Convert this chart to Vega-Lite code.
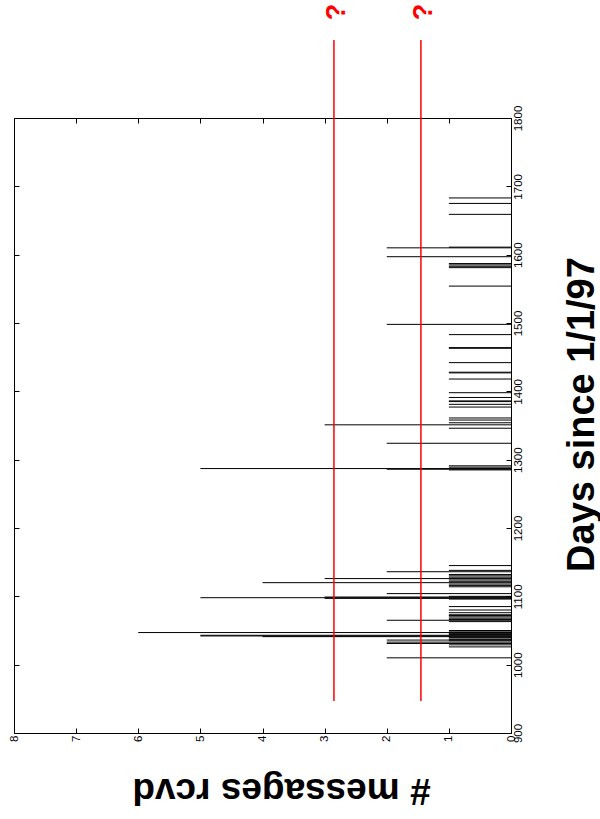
{
  "$schema": "https://vega.github.io/schema/vega-lite/v6.json",
  "width": 497,
  "height": 615,
  "autosize": "none",
  "padding": {"left": 14, "top": 118, "right": 89, "bottom": 86},
  "background": "white",
  "config": {
    "view": {"stroke": "black", "strokeWidth": 1},
    "axis": {
      "domain": false,
      "grid": false,
      "tickColor": "black",
      "tickSize": -5,
      "tickWidth": 1,
      "labelFont": "Liberation Sans",
      "labelFontSize": 11,
      "labelColor": "black",
      "titleColor": "black",
      "titleFont": "Liberation Sans",
      "titleFontWeight": "bold"
    }
  },
  "datasets": {
    "msgs": [
      {"day": 1010, "n": 2}, {"day": 1026, "n": 1}, {"day": 1029, "n": 1}, {"day": 1031, "n": 2},
      {"day": 1033, "n": 2}, {"day": 1035, "n": 1}, {"day": 1036, "n": 2}, {"day": 1037, "n": 1},
      {"day": 1039, "n": 1}, {"day": 1040, "n": 1}, {"day": 1041, "n": 4}, {"day": 1042, "n": 5},
      {"day": 1043, "n": 5}, {"day": 1044, "n": 1}, {"day": 1045, "n": 1}, {"day": 1046, "n": 1},
      {"day": 1047, "n": 6}, {"day": 1048, "n": 1}, {"day": 1050, "n": 1}, {"day": 1063, "n": 1},
      {"day": 1065, "n": 2}, {"day": 1066, "n": 1}, {"day": 1068, "n": 1}, {"day": 1070, "n": 1},
      {"day": 1072, "n": 1}, {"day": 1073, "n": 1}, {"day": 1076, "n": 1}, {"day": 1080, "n": 1},
      {"day": 1085, "n": 1}, {"day": 1096, "n": 1}, {"day": 1097, "n": 3}, {"day": 1098, "n": 5},
      {"day": 1099, "n": 3}, {"day": 1100, "n": 1}, {"day": 1104, "n": 2}, {"day": 1114, "n": 1},
      {"day": 1116, "n": 1}, {"day": 1118, "n": 1}, {"day": 1120, "n": 4}, {"day": 1122, "n": 1},
      {"day": 1124, "n": 1}, {"day": 1126, "n": 3}, {"day": 1128, "n": 1}, {"day": 1130, "n": 1},
      {"day": 1132, "n": 1}, {"day": 1136, "n": 2}, {"day": 1138, "n": 1}, {"day": 1145, "n": 1},
      {"day": 1285, "n": 1}, {"day": 1286, "n": 2}, {"day": 1287, "n": 5}, {"day": 1289, "n": 1},
      {"day": 1291, "n": 1}, {"day": 1324, "n": 2}, {"day": 1346, "n": 1}, {"day": 1351, "n": 3},
      {"day": 1354, "n": 1}, {"day": 1358, "n": 1}, {"day": 1361, "n": 1}, {"day": 1377, "n": 1},
      {"day": 1381, "n": 1}, {"day": 1385, "n": 1}, {"day": 1386, "n": 1}, {"day": 1391, "n": 1},
      {"day": 1398, "n": 1}, {"day": 1418, "n": 1}, {"day": 1427, "n": 1}, {"day": 1428, "n": 1},
      {"day": 1442, "n": 1}, {"day": 1463, "n": 1}, {"day": 1464, "n": 1}, {"day": 1483, "n": 1},
      {"day": 1498, "n": 2}, {"day": 1554, "n": 1}, {"day": 1581, "n": 1}, {"day": 1583, "n": 1},
      {"day": 1585, "n": 1}, {"day": 1587, "n": 1}, {"day": 1597, "n": 2}, {"day": 1610, "n": 2},
      {"day": 1611, "n": 1}, {"day": 1659, "n": 1}, {"day": 1675, "n": 1}, {"day": 1683, "n": 1}
    ],
    "guesses": [
      {"level": 2.85, "start": 947, "end": 1914, "mark_y": 1955, "label": "?"},
      {"level": 1.45, "start": 947, "end": 1914, "mark_y": 1955, "label": "?"}
    ]
  },
  "resolve": {"axis": {"x": "independent", "y": "independent"}},
  "layer": [
    {
      "data": {"name": "msgs"},
      "mark": {"type": "rule", "color": "black", "strokeWidth": 1},
      "encoding": {
        "x": {
          "field": "n", "type": "quantitative",
          "scale": {"domain": [0, 8], "reverse": true, "nice": false, "zero": false},
          "axis": {
            "orient": "bottom", "values": [0, 1, 2, 3, 4, 5, 6, 7, 8], "format": "d",
            "labelAngle": -90, "labelAlign": "right", "labelBaseline": "middle",
            "labelPadding": 7, "labelFontSize": 11.5, "labelFont": "Liberation Sans",
            "title": "# messages rcvd", "titleAngle": 180, "titleFontSize": 37,
            "titleAlign": "center", "titleBaseline": "alphabetic",
            "titleX": 267, "titleY": 45
          }
        },
        "x2": {"datum": 0},
        "y": {
          "field": "day", "type": "quantitative",
          "scale": {"domain": [900, 1800], "nice": false, "zero": false},
          "axis": {
            "orient": "right", "values": [900, 1000, 1100, 1200, 1300, 1400, 1500, 1600, 1700, 1800], "format": "d",
            "labelAngle": -90, "labelAlign": "center", "labelBaseline": "top",
            "labelPadding": 6, "labelFontSize": 11.5, "labelFont": "Liberation Sans",
            "title": "Days since 1/1/97", "titleAngle": -90, "titleFontSize": 38,
            "titleAlign": "center", "titleBaseline": "alphabetic",
            "titleX": 82, "titleY": 296
          }
        }
      }
    },
    {
      "data": {"name": "msgs"},
      "mark": {"type": "rule", "opacity": 0},
      "encoding": {
        "x": {
          "field": "n", "type": "quantitative",
          "scale": {"domain": [0, 8], "reverse": true, "nice": false, "zero": false},
          "axis": {"orient": "top", "values": [0, 1, 2, 3, 4, 5, 6, 7, 8], "labels": false, "title": null}
        },
        "y": {
          "field": "day", "type": "quantitative",
          "scale": {"domain": [900, 1800], "nice": false, "zero": false},
          "axis": {"orient": "left", "values": [900, 1000, 1100, 1200, 1300, 1400, 1500, 1600, 1700, 1800], "labels": false, "title": null}
        }
      }
    },
    {
      "data": {"name": "guesses"},
      "mark": {"type": "rule", "color": "#ff0000", "strokeWidth": 1.5},
      "encoding": {
        "x": {"field": "level", "type": "quantitative", "scale": {"domain": [0, 8], "reverse": true, "nice": false, "zero": false}, "axis": null},
        "y": {"field": "start", "type": "quantitative", "scale": {"domain": [900, 1800], "nice": false, "zero": false}, "axis": null},
        "y2": {"field": "end"}
      }
    },
    {
      "data": {"name": "guesses"},
      "mark": {"type": "text", "color": "#ff0000", "fontSize": 27, "fontWeight": "bold", "font": "Liberation Sans", "angle": 270, "align": "center", "baseline": "middle", "dy": 3},
      "encoding": {
        "x": {"field": "level", "type": "quantitative", "scale": {"domain": [0, 8], "reverse": true, "nice": false, "zero": false}, "axis": null},
        "y": {"field": "mark_y", "type": "quantitative", "scale": {"domain": [900, 1800], "nice": false, "zero": false}, "axis": null},
        "text": {"field": "label"}
      }
    }
  ]
}
